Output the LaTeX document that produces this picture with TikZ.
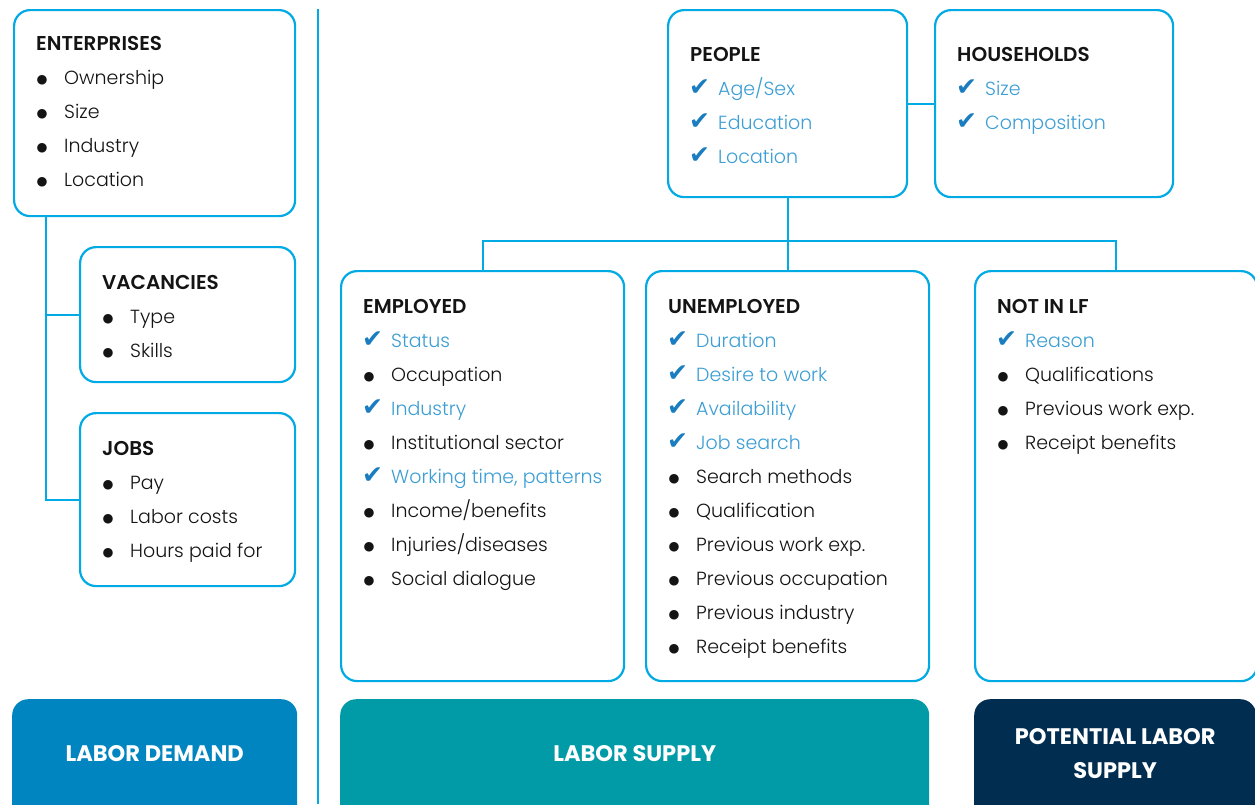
\documentclass[tikz,border=0pt]{standalone}
\usepackage{fontspec}
\setmainfont{Poppins}[UprightFont=*-Light, BoldFont=*-SemiBold]
\newfontfamily\boldf{Poppins}[UprightFont=*-Bold]
\newfontfamily\symf{DejaVu Sans}
\usetikzlibrary{calc}
\definecolor{cline}{RGB}{0,170,228}
\definecolor{ctext}{RGB}{60,158,212}
\definecolor{chk}{RGB}{25,125,192}
\definecolor{cdem}{RGB}{0,133,193}
\definecolor{csup}{RGB}{0,155,166}
\definecolor{cpot}{RGB}{0,45,80}
\definecolor{ink}{RGB}{20,20,20}
\newcommand\hd[1]{{\fontsize{20}{34}\selectfont\bfseries #1}}
\newcommand\bi[1]{\makebox[28pt][l]{\hspace{0.5pt}\raisebox{1pt}{\symf\fontsize{12.5}{12}\selectfont ●}}#1}
\newcommand\ci[1]{\makebox[28pt][l]{\hspace{-1pt}\raisebox{-0.5pt}{\textcolor{chk}{\symf\fontsize{25}{25}\selectfont ✔}}}\textcolor{ctext}{#1}}
\newcommand\hrow[1]{\hbox{#1}}
\begin{document}
\begin{tikzpicture}[x=1pt,y=-1pt,
  box/.style={draw=cline,line width=2.2pt,rounded corners=16pt,fill=white,inner sep=0pt,anchor=north west},
  fbox/.style={rounded corners=16pt,inner sep=0pt,anchor=north west},
  conn/.style={draw=cline,line width=2pt},
  txt/.style={inner sep=0pt,anchor=base west,text=ink,font=\fontsize{19}{34}\selectfont},
  btxt/.style={inner sep=0pt,text=white,align=center,font=\boldf\fontsize{22.5}{34}\selectfont}]
\useasboundingbox (0,0) rectangle (1255,804);
\fill[white] (0,0) rectangle (1255,804);
\begin{scope}
\clip (0,0) rectangle (1255,804);
% divider
\coordinate (dtop) at (318,9);
\coordinate (dbot) at (318,804);
\draw[conn] (dtop) -- (dbot);
% left boxes
\node[box,minimum width=281pt,minimum height=206pt] (ent) at (13,9) {};
\node[box,minimum width=215pt,minimum height=135pt] (vac) at (79,246) {};
\node[box,minimum width=215pt,minimum height=173pt] (jobs) at (79,412) {};
% top boxes
\node[box,minimum width=239pt,minimum height=187pt] (peo) at (667,9) {};
\node[box,minimum width=238pt,minimum height=187pt] (hh) at (934,9) {};
% middle boxes
\node[box,minimum width=283pt,minimum height=410pt] (emp) at (340,270) {};
\node[box,minimum width=283pt,minimum height=410pt] (une) at (645,270) {};
\node[box,minimum width=282pt,minimum height=410pt] (nlf) at (974,270) {};
% bottom boxes
\node[fbox,fill=cdem,minimum width=285pt,minimum height=140pt] (ldem) at (12,699) {};
\node[fbox,fill=csup,minimum width=589pt,minimum height=140pt] (lsup) at (340,699) {};
\node[fbox,fill=cpot,minimum width=282pt,minimum height=140pt] (lpot) at (974,699) {};
\node[btxt] (ldemT) at ($(ldem.north)+(0,55)$) {LABOR DEMAND};
\node[btxt] (lsupT) at ($(lsup.north)+(0,55)$) {LABOR SUPPLY};
\node[btxt] (lpotT) at ($(lpot.north)+(0,55)$) {POTENTIAL LABOR\\SUPPLY};
% connectors
\coordinate (ea) at ($(ent.south west)+(33,0)$);
\draw[conn] (ea) |- (vac.west);
\draw[conn] (ea) |- (jobs.west);
\draw[conn] (peo.east) -- (hh.west);
\draw[conn] (peo.south) -- (une.north);
\coordinate (bar) at ($(peo.south)+(0,43)$);
\draw[conn] (emp.north) |- (bar) -| (nlf.north);
% texts
\node[txt] (entT) at ($(ent.north west)+(23,41)$) {\vtop{\hrow{\hd{ENTERPRISES}}\hrow{\bi{Ownership}}\hrow{\bi{Size}}\hrow{\bi{Industry}}\hrow{\bi{Location}}}};
\node[txt] (vacT) at ($(vac.north west)+(23,43)$) {\vtop{\hrow{\hd{VACANCIES}}\hrow{\bi{Type}}\hrow{\bi{Skills}}}};
\node[txt] (jobsT) at ($(jobs.north west)+(23,43)$) {\vtop{\hrow{\hd{JOBS}}\hrow{\bi{Pay}}\hrow{\bi{Labor costs}}\hrow{\bi{Hours paid for}}}};
\node[txt] (peoT) at ($(peo.north west)+(23,52)$) {\vtop{\hrow{\hd{PEOPLE}}\hrow{\ci{Age/Sex}}\hrow{\ci{Education}}\hrow{\ci{Location}}}};
\node[txt] (hhT) at ($(hh.north west)+(23,52)$) {\vtop{\hrow{\hd{HOUSEHOLDS}}\hrow{\ci{Size}}\hrow{\ci{Composition}}}};
\node[txt] (empT) at ($(emp.north west)+(23,43)$) {\vtop{\hrow{\hd{EMPLOYED}}\hrow{\ci{Status}}\hrow{\bi{Occupation}}\hrow{\ci{Industry}}\hrow{\bi{Institutional sector}}\hrow{\ci{Working time, patterns}}\hrow{\bi{Income/benefits}}\hrow{\bi{Injuries/diseases}}\hrow{\bi{Social dialogue}}}};
\node[txt] (uneT) at ($(une.north west)+(23,43)$) {\vtop{\hrow{\hd{UNEMPLOYED}}\hrow{\ci{Duration}}\hrow{\ci{Desire to work}}\hrow{\ci{Availability}}\hrow{\ci{Job search}}\hrow{\bi{Search methods}}\hrow{\bi{Qualification}}\hrow{\bi{Previous work exp.}}\hrow{\bi{Previous occupation}}\hrow{\bi{Previous industry}}\hrow{\bi{Receipt benefits}}}};
\node[txt] (nlfT) at ($(nlf.north west)+(23,43)$) {\vtop{\hrow{\hd{NOT IN LF}}\hrow{\ci{Reason}}\hrow{\bi{Qualifications}}\hrow{\bi{Previous work exp.}}\hrow{\bi{Receipt benefits}}}};
\end{scope}
\end{tikzpicture}
\end{document}
